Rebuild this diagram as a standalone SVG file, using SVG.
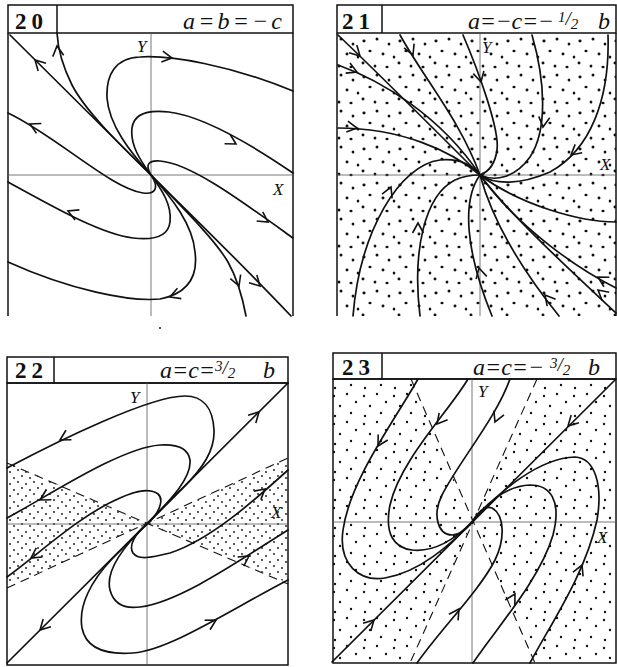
<svg xmlns="http://www.w3.org/2000/svg" width="617" height="667" viewBox="0 0 617 667">
<style>
.fr{fill:none;stroke:#111;stroke-width:1.5}
.ax{fill:none;stroke:#555;stroke-width:0.8}
.tr{fill:none;stroke:#111;stroke-width:1.7;stroke-linecap:round}
.ds{fill:none;stroke:#111;stroke-width:1.1;stroke-dasharray:9 6}
.ar{fill:none;stroke:none;marker-end:url(#chev)}
.num{font-family:"Liberation Serif","DejaVu Serif","Times New Roman",serif;font-size:23px;font-weight:bold;letter-spacing:5px;fill:#111}
.ttl{font-family:"Liberation Serif","DejaVu Serif","Times New Roman",serif;font-style:italic;font-size:24px;fill:#111}
.lab{font-family:"Liberation Serif","DejaVu Serif","Times New Roman",serif;font-style:italic;font-size:17px;fill:#111}
.dt{fill:#111}
</style>
<defs>
<marker id="chev" markerUnits="userSpaceOnUse" markerWidth="24" markerHeight="24" viewBox="-12 -12 24 24" refX="0" refY="0" orient="auto" overflow="visible">
<path d="M-10,-5.5 L0,0 L-10,5.5" fill="none" stroke="#111" stroke-width="1.6"/>
</marker>
<pattern id="p21" patternUnits="userSpaceOnUse" width="36" height="36">
<ellipse class="dt" cx="4" cy="5" rx="1.6" ry="1.4"/>
<ellipse class="dt" cx="17" cy="3" rx="1.5" ry="1.5"/>
<ellipse class="dt" cx="29" cy="8" rx="1.4" ry="1.6"/>
<ellipse class="dt" cx="10" cy="15" rx="1.6" ry="1.3"/>
<ellipse class="dt" cx="23" cy="18" rx="1.5" ry="1.4"/>
<ellipse class="dt" cx="34" cy="21" rx="1.3" ry="1.5"/>
<ellipse class="dt" cx="3" cy="27" rx="1.5" ry="1.4"/>
<ellipse class="dt" cx="15" cy="30" rx="1.4" ry="1.6"/>
<ellipse class="dt" cx="27" cy="31" rx="1.6" ry="1.3"/>
</pattern>
<pattern id="p22" patternUnits="userSpaceOnUse" width="16" height="12">
<circle class="dt" cx="2" cy="2" r="0.9"/>
<circle class="dt" cx="10" cy="4" r="0.9"/>
<circle class="dt" cx="6" cy="8" r="0.9"/>
<circle class="dt" cx="14" cy="10" r="0.9"/>
</pattern>
<pattern id="p23" patternUnits="userSpaceOnUse" width="30" height="28">
<circle class="dt" cx="4" cy="4" r="1.2"/>
<circle class="dt" cx="17" cy="2" r="1.2"/>
<circle class="dt" cx="26" cy="10" r="1.2"/>
<circle class="dt" cx="10" cy="14" r="1.2"/>
<circle class="dt" cx="21" cy="21" r="1.2"/>
<circle class="dt" cx="5" cy="24" r="1.2"/>
</pattern>
</defs>
<rect width="617" height="667" fill="#fff"/>

<g id="panel20">
<rect class="fr" x="8" y="5" width="285" height="28"/>
<line class="fr" x1="57" y1="5" x2="57" y2="33"/>
<line class="fr" x1="8" y1="33" x2="8" y2="316"/>
<line class="fr" x1="293" y1="33" x2="293" y2="316"/>
<text class="num" x="15" y="29">20</text>
<text class="ttl" x="183" y="29" textLength="99" lengthAdjust="spacing">a=b=−c</text>
<line class="ax" x1="151" y1="33" x2="151" y2="316"/>
<line class="ax" x1="8" y1="175" x2="293" y2="175"/>
<text class="lab" x="137" y="52">Y</text>
<text class="lab" x="273" y="195">X</text>
<path class="tr" d="M10,35 L151,175 C190,214 240,262 291,316"/>
<path class="tr" d="M151,175 C115,140 85,110 72,85 C62,65 58,50 57,33"/>
<path class="tr" d="M151,175 C185,210 215,240 228,262 C238,280 243,300 246,316"/>
<path class="tr" d="M151,175 C158,185 158,195 143,193 C110,188 55,135 8,113"/>
<path class="tr" d="M151,175 C145,165 148,160 160,161 C190,163 240,200 293,238"/>
<path class="tr" d="M151,175 C162,190 172,205 170,222 C168,238 150,240 133,238 C100,234 50,205 8,182"/>
<path class="tr" d="M151,175 C140,160 130,145 132,128 C134,112 152,110 169,112 C202,116 252,145 293,173"/>
<path class="tr" d="M151,175 C172,198 193,225 195,252 C198,275 190,293 160,299 C130,302 70,290 8,262"/>
<path class="tr" d="M151,175 C130,152 109,125 107,98 C106,75 115,58 140,57 C170,55 230,65 293,91"/>
<path class="ar" d="M40,65 L35,60"/>
<path class="ar" d="M58,54 L57,46"/>
<path class="ar" d="M255,281 L260,286"/>
<path class="ar" d="M236,278 L239,286"/>
<path class="ar" d="M36,127 L30,124"/>
<path class="ar" d="M262,218 L268,222"/>
<path class="ar" d="M75,214 L68,211"/>
<path class="ar" d="M229,140 L236,144"/>
<path class="ar" d="M178,294 L170,297"/>
<path class="ar" d="M165,57 L172,58"/>
<circle class="dt" cx="160" cy="328" r="1"/>
</g>

<g id="panel21">
<rect x="337" y="33" width="279" height="283" fill="url(#p21)"/>
<rect class="fr" x="337" y="5" width="279" height="28"/>
<line class="fr" x1="382" y1="5" x2="382" y2="33"/>
<line class="fr" x1="337" y1="33" x2="337" y2="316"/>
<line class="fr" x1="616" y1="33" x2="616" y2="316"/>
<text class="num" x="342" y="29">21</text>
<text class="ttl" y="29"><tspan x="468" textLength="86" lengthAdjust="spacing">a=−c=−</tspan><tspan x="558" dy="-7" font-size="15">1</tspan><tspan dy="3" font-size="19">/</tspan><tspan dy="4" font-size="15">2</tspan><tspan x="598" dy="0">b</tspan></text>
<line class="ax" x1="480" y1="33" x2="480" y2="316"/>
<line class="ax" x1="337" y1="175" x2="616" y2="175"/>
<text class="lab" x="482" y="53">Y</text>
<text class="lab" x="600" y="170">X</text>
<path class="tr" d="M338,35 C380,75 430,125 480,175"/>
<path class="tr" d="M338,65 C380,80 440,115 480,175"/>
<path class="tr" d="M338,128 C400,128 450,150 480,175"/>
<path class="tr" d="M400,35 C425,80 460,120 480,175"/>
<path class="tr" d="M463,35 C478,70 500,130 497,150 C495,165 488,172 480,175"/>
<path class="tr" d="M532,35 C545,80 548,130 530,157 C515,178 495,182 480,175"/>
<path class="tr" d="M608,35 C610,100 590,150 550,172 C520,185 495,185 480,175"/>
<path class="tr" d="M616,222 C580,222 520,205 480,175"/>
<path class="tr" d="M353,316 C360,230 400,165 440,160 C460,158 472,165 480,175"/>
<path class="tr" d="M420,316 C412,250 425,195 455,180 C466,175 474,175 480,175"/>
<path class="tr" d="M480,175 C462,200 465,250 492,316"/>
<path class="tr" d="M559,316 C530,280 495,230 480,175"/>
<path class="tr" d="M616,313 C570,270 510,215 480,175"/>
<path class="tr" d="M616,288 C580,270 520,230 480,175"/>
<path class="ar" d="M355,51 L360,56"/>
<path class="ar" d="M350,69 L357,72"/>
<path class="ar" d="M350,127 L357,128"/>
<path class="ar" d="M410,48 L413,55"/>
<path class="ar" d="M479,74 L481,82"/>
<path class="ar" d="M544,119 L543,127"/>
<path class="ar" d="M577,150 L571,155"/>
<path class="ar" d="M388,194 L391,187"/>
<path class="ar" d="M418,231 L418,223"/>
<path class="ar" d="M481,276 L479,268"/>
<path class="ar" d="M550,301 L545,295"/>
<path class="ar" d="M604,295 L598,290"/>
<path class="ar" d="M605,281 L598,277"/>
</g>

<g id="panel22">
<polygon points="7,462 147,524 7,588" fill="url(#p22)"/>
<polygon points="288,458 147,524 288,583" fill="url(#p22)"/>
<rect class="fr" x="7" y="357" width="281" height="26"/>
<line class="fr" x1="54" y1="357" x2="54" y2="383"/>
<rect class="fr" x="7" y="383" width="281" height="282"/>
<text class="num" x="15" y="378">22</text>
<text class="ttl" y="378"><tspan x="160">a=c=</tspan><tspan x="215" dy="-7" font-size="15">3</tspan><tspan dy="3" font-size="19">/</tspan><tspan dy="4" font-size="15">2</tspan><tspan x="263" dy="0">b</tspan></text>
<line class="ax" x1="147" y1="383" x2="147" y2="665"/>
<line class="ax" x1="7" y1="524" x2="288" y2="524"/>
<text class="lab" x="130" y="403">Y</text>
<text class="lab" x="271" y="518">X</text>
<path class="ds" d="M7,463 L288,584"/>
<path class="ds" d="M7,588 L288,458"/>
<path class="tr" d="M7,663 L288,383"/>
<path class="tr" d="M147,524 L183,488 C203,468 215,450 214,430 C213,408 203,396 185,396 C150,396 60,440 7,468"/>
<path class="tr" d="M147,524 C165,505 192,480 190,460 C188,447 175,444 160,445 C120,448 50,495 7,518"/>
<path class="tr" d="M147,524 C158,515 165,500 158,494 C150,488 138,490 120,498 C80,515 40,553 7,577"/>
<path class="tr" d="M147,524 C136,533 128,545 133,553 C138,560 150,558 170,553 C210,540 255,500 288,470"/>
<path class="tr" d="M147,524 C125,545 105,570 110,590 C114,605 125,609 140,607 C180,602 240,560 288,530"/>
<path class="tr" d="M147,524 L112,559 C92,580 78,605 82,628 C86,648 105,655 133,653 C170,650 230,610 288,580"/>
<path class="ar" d="M45,625 L40,630"/>
<path class="ar" d="M254,417 L259,412"/>
<path class="ar" d="M67,436 L60,440"/>
<path class="ar" d="M47,496 L40,500"/>
<path class="ar" d="M37,554 L31,558"/>
<path class="ar" d="M259,494 L265,489"/>
<path class="ar" d="M243,560 L249,556"/>
<path class="ar" d="M209,624 L216,620"/>
</g>

<g id="panel23">
<polygon points="333,379 411,379 472,522 410,663 333,663" fill="url(#p23)"/>
<polygon points="537,379 616,379 616,663 535,663 472,522" fill="url(#p23)"/>
<rect class="fr" x="333" y="353" width="283" height="26"/>
<line class="fr" x1="382" y1="353" x2="382" y2="379"/>
<rect class="fr" x="333" y="379" width="283" height="284"/>
<text class="num" x="342" y="375">23</text>
<text class="ttl" y="375"><tspan x="473">a=c=−</tspan><tspan x="550" dy="-7" font-size="15">3</tspan><tspan dy="3" font-size="19">/</tspan><tspan dy="4" font-size="15">2</tspan><tspan x="588" dy="0">b</tspan></text>
<line class="ax" x1="472" y1="379" x2="472" y2="663"/>
<line class="ax" x1="333" y1="522" x2="616" y2="522"/>
<text class="lab" x="478" y="397">Y</text>
<text class="lab" x="597" y="543">X</text>
<path class="ds" d="M411,379 L535,663"/>
<path class="ds" d="M537,379 L410,663"/>
<path class="tr" d="M332,662 L615,380"/>
<path class="tr" d="M418,379 C395,420 350,480 343,530 C338,565 360,582 385,578 C420,572 450,545 472,522"/>
<path class="tr" d="M468,379 C450,410 400,460 390,505 C384,535 395,548 412,550 C430,552 450,544 472,522"/>
<path class="tr" d="M510,379 C495,420 460,460 442,495 C432,515 438,535 452,535 C460,535 466,530 472,522"/>
<path class="tr" d="M530,663 C550,625 585,575 597,520 C603,485 595,458 575,457 C540,458 500,490 472,522"/>
<path class="tr" d="M473,663 C495,630 540,580 553,535 C562,500 550,485 530,485 C505,486 485,505 472,522"/>
<path class="tr" d="M417,663 C440,630 480,590 495,560 C505,540 505,515 492,508 C485,505 478,512 472,522"/>
<path class="ar" d="M369,625 L374,620"/>
<path class="ar" d="M573,421 L568,426"/>
<path class="ar" d="M382,439 L378,446"/>
<path class="ar" d="M442,418 L437,424"/>
<path class="ar" d="M498,415 L495,422"/>
<path class="ar" d="M579,572 L582,565"/>
<path class="ar" d="M511,601 L515,594"/>
<path class="ar" d="M455,615 L459,609"/>
</g>
</svg>
